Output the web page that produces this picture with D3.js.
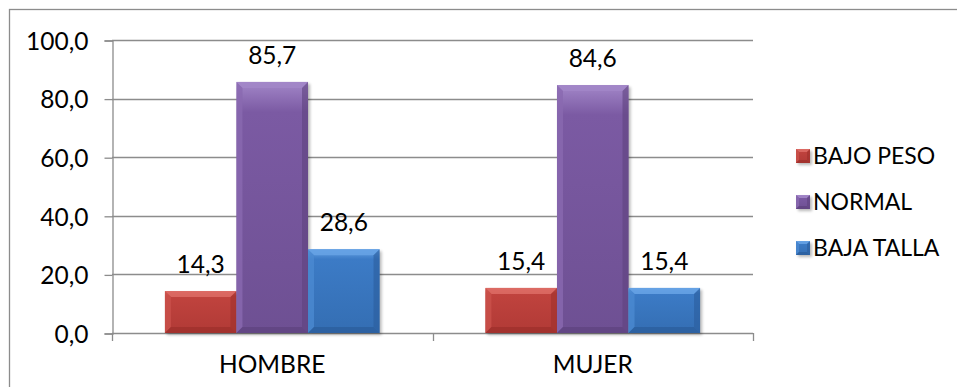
<!DOCTYPE html>
<html>
<head>
<meta charset="utf-8">
<script src="https://cdn.jsdelivr.net/npm/d3@7"></script>
<style>
  html, body { margin: 0; padding: 0; background: #ffffff; }
  svg { display: block; }
  text { font-family: Lato, "Open Sans", sans-serif; fill: #000; }
</style>
</head>
<body>
<svg id="chart" width="957" height="387"></svg>
<script>
// Data
const categories = ["HOMBRE", "MUJER"];
const seriesNames = ["BAJO PESO", "NORMAL", "BAJA TALLA"];
const bajoPeso = [14.3, 15.4];
const normal = [85.7, 84.6];
const bajaTalla = [28.6, 15.4];
const yTicks = [0, 20, 40, 60, 80, 100];

const seriesValues = [bajoPeso, normal, bajaTalla];
const palette = [
  { base: "#c0433e", light: "#dc6a64", dark: "#9e302c" },
  { base: "#7b5aa3", light: "#a286c8", dark: "#5f437f" },
  { base: "#3c7bc6", light: "#66a2e4", dark: "#2b5e9c" }
];

const FONT = 24.5;
const svg = d3.select("#chart");
const locale = d3.formatLocale({ decimal: ",", thousands: ".", grouping: [3], currency: ["", ""] });
const fmt = locale.format(".1f");

const plot = { left: 112, right: 753, top: 40, bottom: 333 };
const grid = "#8c8c8c";

// Outer frame (continues past the visible edge)
svg.append("rect")
  .attr("x", 9.5).attr("y", 9.5)
  .attr("width", 1000).attr("height", 500)
  .attr("fill", "none").attr("stroke", grid).attr("stroke-width", 1.3);

const y = d3.scaleLinear().domain([0, 100]).range([plot.bottom, plot.top]);
const x0 = d3.scaleBand().domain(categories).range([plot.left, plot.right]).paddingInner(0).paddingOuter(0);
const x1 = d3.scaleBand().domain(seriesNames).range([0, x0.bandwidth()]).paddingInner(0).paddingOuter(0.74);

// Gradients for the bevelled bars
const defs = svg.append("defs");
palette.forEach((c, i) => {
  const g = defs.append("linearGradient").attr("id", "fill" + i)
    .attr("x1", 0).attr("y1", 0).attr("x2", 0).attr("y2", 1);
  g.append("stop").attr("offset", "0%").attr("stop-color", c.light);
  g.append("stop").attr("offset", "12%").attr("stop-color", c.base);
  g.append("stop").attr("offset", "100%").attr("stop-color", d3.interpolateRgb(c.base, c.dark)(0.45));
});
const blur = defs.append("filter").attr("id", "shadow").attr("x", "-20%").attr("y", "-20%").attr("width", "140%").attr("height", "140%");
blur.append("feGaussianBlur").attr("stdDeviation", 1.5);

// Gridlines
svg.append("g").selectAll("line").data(yTicks).join("line")
  .attr("x1", plot.left).attr("x2", plot.right)
  .attr("y1", d => Math.round(y(d)) + 0.5).attr("y2", d => Math.round(y(d)) + 0.5)
  .attr("stroke", grid).attr("stroke-width", 1.3);

// Y axis
const yAxis = d3.axisLeft(y).tickValues(yTicks).tickFormat(fmt).tickSize(8).tickPadding(16);
const yg = svg.append("g").attr("transform", `translate(${plot.left + 0.5},0.5)`).call(yAxis);
yg.select(".domain").attr("stroke", grid).attr("stroke-width", 1.3);
yg.selectAll(".tick line").attr("stroke", grid).attr("stroke-width", 1.3);
yg.selectAll(".tick text").attr("font-size", FONT).attr("font-family", "Lato, sans-serif").attr("fill", "#000").attr("dy", "0.36em");

// X axis
const xAxis = d3.axisBottom(x0).tickSize(0).tickPadding(0);
const xg = svg.append("g").attr("transform", `translate(0,${Math.round(plot.bottom) + 0.5})`).call(xAxis);
xg.select(".domain").remove();
xg.selectAll(".tick text").attr("font-size", FONT).attr("font-family", "Lato, sans-serif").attr("fill", "#000")
  .attr("y", 31).attr("dy", "0.36em");
// category boundary ticks
const bounds = [plot.left, ...categories.map(c => x0(c) + x0.bandwidth())];
svg.append("g").selectAll("line").data(bounds).join("line")
  .attr("x1", d => Math.round(d) + 0.5).attr("x2", d => Math.round(d) + 0.5)
  .attr("y1", plot.bottom).attr("y2", plot.bottom + 8)
  .attr("stroke", grid).attr("stroke-width", 1.3);

// Bevelled box helper
function bevelBox(g, bx, by, bw, bh, c, i, b) {
  g.append("rect").attr("x", bx + 2).attr("y", by + 2).attr("width", bw).attr("height", bh)
    .attr("fill", "#000").attr("opacity", 0.28).attr("filter", "url(#shadow)");
  g.append("rect").attr("x", bx).attr("y", by).attr("width", bw).attr("height", bh).attr("fill", `url(#fill${i})`);
  const bb = Math.min(b, bh / 2, bw / 2);
  // top bevel
  g.append("path").attr("d", `M${bx},${by}L${bx + bw},${by}L${bx + bw - bb},${by + bb}L${bx + bb},${by + bb}Z`)
    .attr("fill", c.light).attr("opacity", 0.9);
  // left bevel
  g.append("path").attr("d", `M${bx},${by}L${bx + bb},${by + bb}L${bx + bb},${by + bh - bb}L${bx},${by + bh}Z`)
    .attr("fill", d3.interpolateRgb(c.base, c.light)(0.35)).attr("opacity", 0.8);
  // right bevel
  g.append("path").attr("d", `M${bx + bw},${by}L${bx + bw - bb},${by + bb}L${bx + bw - bb},${by + bh - bb}L${bx + bw},${by + bh}Z`)
    .attr("fill", c.dark).attr("opacity", 0.6);
  // bottom bevel
  g.append("path").attr("d", `M${bx},${by + bh}L${bx + bb},${by + bh - bb}L${bx + bw - bb},${by + bh - bb}L${bx + bw},${by + bh}Z`)
    .attr("fill", c.dark).attr("opacity", 0.75);
}

// Bars
const barsG = svg.append("g");
categories.forEach((cat, ci) => {
  seriesNames.forEach((s, si) => {
    const v = seriesValues[si][ci];
    const bx = x0(cat) + x1(s);
    const by = y(v);
    bevelBox(barsG, bx, by, x1.bandwidth(), plot.bottom - by, palette[si], si, 6);
  });
});

// Value labels
const labelsG = svg.append("g");
categories.forEach((cat, ci) => {
  seriesNames.forEach((s, si) => {
    const v = seriesValues[si][ci];
    labelsG.append("text")
      .attr("x", x0(cat) + x1(s) + x1.bandwidth() / 2)
      .attr("y", y(v) - 18)
      .attr("text-anchor", "middle")
      .attr("font-size", FONT)
      .text(fmt(v));
  });
});

// Legend
const legend = svg.append("g").attr("transform", "translate(796,0)");
seriesNames.forEach((s, i) => {
  const cy = 156 + i * 46;
  const lg = legend.append("g");
  bevelBox(lg, 0, cy - 7, 14, 14, palette[i], i, 3);
  lg.append("text").attr("x", 17).attr("y", cy).attr("dy", "0.36em")
    .attr("font-size", 23).text(s);
});
</script>
</body>
</html>
